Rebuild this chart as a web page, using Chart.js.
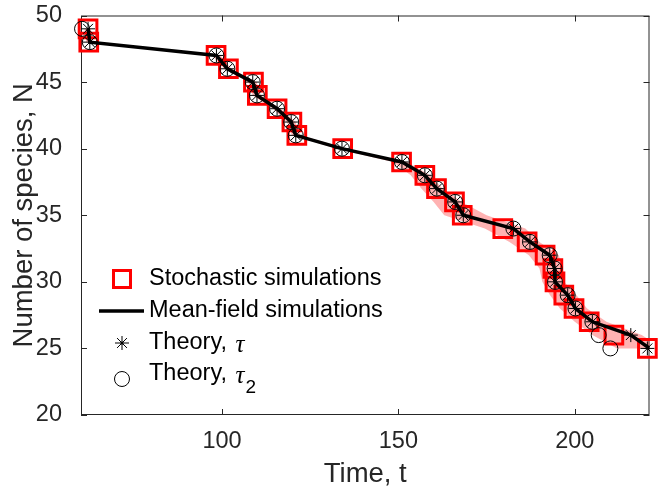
<!DOCTYPE html>
<html>
<head>
<meta charset="utf-8">
<script src="https://cdn.jsdelivr.net/npm/chart.js@4.4.1/dist/chart.umd.min.js"></script>
<style>
  html, body { margin: 0; padding: 0; background: #fff; }
  #wrap { width: 665px; height: 487px; }
</style>
</head>
<body>
<div id="wrap"><canvas id="chart" width="665" height="487"></canvas></div>
<script>
// number of species left after each extinction
const speciesN = [49, 48, 47, 46, 45, 44, 43, 42, 41, 40, 39, 38, 37, 36, 35, 34, 33, 32, 31, 30, 29, 28, 27, 26, 25];
// extinction times
const tStochastic = [62.0, 62.2, 98.3, 101.8, 108.9, 110.0, 115.6, 119.8, 121.2, 134.2, 150.9, 157.5, 160.8, 165.9, 168.1, 179.6, 186.5, 191.6, 193.8, 194.4, 196.9, 199.8, 204.1, 211.1, 220.6];
const tMeanField  = [62.0, 62.5, 98.4, 101.5, 108.7, 109.9, 115.6, 119.6, 120.9, 134.0, 151.0, 157.5, 160.9, 166.1, 168.4, 182.6, 187.3, 192.9, 194.3, 194.4, 198.0, 200.2, 205.0, 215.9, 221.2];
const tTheory     = [62.0, 62.5, 98.4, 101.5, 108.7, 109.9, 115.6, 119.6, 120.9, 134.0, 151.0, 157.5, 160.9, 166.1, 168.4, 182.6, 187.3, 192.9, 194.3, 194.4, 198.0, 200.2, 205.0, 215.9, 220.6];
const tTheory2    = [60.3, 62.5, 98.4, 101.5, 108.7, 109.9, 115.6, 119.6, 120.9, 134.0, 151.0, 157.5, 160.9, 166.1, 168.4, 182.6, 187.3, 192.9, 194.3, 194.4, 198.0, 200.2, 205.0, 206.8, 210.1];
// spread of the stochastic runs (shaded band)
const tBandLow  = [61.0, 61.5, 97.2, 100.6, 107.5, 108.7, 114.5, 118.4, 119.8, 132.5, 148.5, 153.5, 156.5, 160.0, 163.0, 174.5, 181.5, 187.0, 190.0, 190.8, 193.0, 195.8, 200.0, 205.0, 212.0];
const tBandHigh = [62.8, 63.2, 99.6, 102.6, 109.8, 111.0, 116.6, 120.8, 122.2, 135.5, 152.5, 159.0, 162.5, 168.0, 175.0, 186.0, 190.0, 195.5, 196.5, 197.0, 200.5, 203.5, 209.0, 219.0, 225.0];
const xTicks = [100, 150, 200];
const yTicks = [20, 25, 30, 35, 40, 45, 50];

const FONT = "'Liberation Sans', Arial, Helvetica, sans-serif";
const TXT = '#262626';

const pts = ts => ts.map((t, i) => ({x: t, y: speciesN[i]}));
const bandPts = pts(tBandLow).concat(pts(tBandHigh).reverse());

// box round the axes with inward ticks, matlab style
const axesBox = {
  id: 'axesBox',
  beforeDatasetsDraw(chart) {
    const {ctx, chartArea: a, scales} = chart;
    ctx.save();
    ctx.strokeStyle = '#262626';
    ctx.lineWidth = 1;
    ctx.strokeRect(a.left + 0.5, a.top + 0.5, a.right - a.left - 1, a.bottom - a.top - 1);
    ctx.beginPath();
    xTicks.forEach(v => {
      const px = Math.round(scales.x.getPixelForValue(v)) + 0.5;
      ctx.moveTo(px, a.bottom); ctx.lineTo(px, a.bottom - 6);
      ctx.moveTo(px, a.top); ctx.lineTo(px, a.top + 6);
    });
    yTicks.forEach(v => {
      const py = Math.round(scales.y.getPixelForValue(v)) + 0.5;
      ctx.moveTo(a.left, py); ctx.lineTo(a.left + 6, py);
      ctx.moveTo(a.right, py); ctx.lineTo(a.right - 6, py);
    });
    ctx.stroke();
    ctx.restore();
  }
};

// legend drawn by hand (needs italic tau and a subscript)
const boxLegend = {
  id: 'boxLegend',
  afterDraw(chart) {
    const ctx = chart.ctx;
    const sx = 122, tx = 149;
    const rows = [279, 311, 343, 374];
    ctx.save();
    // square
    ctx.strokeStyle = '#ff0000';
    ctx.lineWidth = 3;
    ctx.strokeRect(sx - 8.5, rows[0] - 8.5, 17, 17);
    // line
    ctx.strokeStyle = '#000';
    ctx.lineWidth = 3.5;
    ctx.beginPath(); ctx.moveTo(99, rows[1]); ctx.lineTo(144, rows[1]); ctx.stroke();
    // asterisk
    ctx.lineWidth = 1;
    ctx.beginPath();
    for (let k = 0; k < 4; k++) {
      const ang = k * Math.PI / 4;
      ctx.moveTo(sx - 7 * Math.cos(ang), rows[2] - 7 * Math.sin(ang));
      ctx.lineTo(sx + 7 * Math.cos(ang), rows[2] + 7 * Math.sin(ang));
    }
    ctx.stroke();
    ctx.beginPath(); ctx.arc(sx, rows[2], 1.5, 0, Math.PI * 2); ctx.fillStyle = '#000'; ctx.fill();
    // circle
    ctx.beginPath(); ctx.arc(sx, rows[3] + 5, 7.5, 0, Math.PI * 2); ctx.stroke();

    ctx.fillStyle = '#000';
    ctx.textBaseline = 'middle';
    ctx.font = '23.5px ' + FONT;
    const ds = chart.data.datasets;
    ctx.fillText(ds[1].label, tx, rows[0]);
    ctx.fillText(ds[2].label, tx, rows[1]);
    [3, 4].forEach((d, j) => {
      const y = rows[2 + j];
      ctx.font = '23.5px ' + FONT;
      ctx.fillText(ds[d].label, tx, y);
      let x = tx + ctx.measureText(ds[d].label).width + 2;
      ctx.font = 'italic 25px "Liberation Serif", serif';
      ctx.fillText('\u03c4', x, y + 2);
      if (d === 4) {
        x += ctx.measureText('\u03c4').width + 1;
        ctx.font = '19px ' + FONT;
        ctx.fillText('2', x, y + 14);
      }
    });
    ctx.restore();
  }
};

new Chart(document.getElementById('chart'), {
  type: 'scatter',
  data: {
    datasets: [
      {
        label: 'band',
        data: bandPts,
        showLine: true,
        fill: 'shape',
        backgroundColor: 'rgba(255, 0, 0, 0.3)',
        borderWidth: 0,
        borderColor: 'rgba(0,0,0,0)',
        pointRadius: 0,
        tension: 0,
        order: 5
      },
      {
        label: 'Stochastic simulations',
        data: pts(tStochastic),
        pointStyle: 'rect',
        pointRadius: 12.5,
        borderColor: '#ff0000',
        backgroundColor: 'rgba(0,0,0,0)',
        borderWidth: 3,
        clip: false,
        order: 4
      },
      {
        label: 'Mean-field simulations',
        data: pts(tMeanField),
        showLine: true,
        borderColor: '#000',
        borderWidth: 3.5,
        pointRadius: 0,
        tension: 0,
        order: 3
      },
      {
        label: 'Theory, ',
        data: pts(tTheory),
        pointStyle: 'star',
        pointRadius: 7,
        borderColor: '#000',
        borderWidth: 1,
        clip: false,
        order: 2
      },
      {
        label: 'Theory, ',
        data: pts(tTheory2),
        pointStyle: 'circle',
        pointRadius: 7.5,
        borderColor: '#000',
        backgroundColor: 'rgba(0,0,0,0)',
        borderWidth: 1,
        clip: false,
        order: 1
      }
    ]
  },
  options: {
    responsive: false,
    animation: false,
    devicePixelRatio: 1,
    layout: { padding: { top: 15, right: 7, left: 0, bottom: 0 } },
    plugins: { legend: { display: false }, tooltip: { enabled: false } },
    scales: {
      x: {
        type: 'linear',
        min: 60,
        max: 221.2,
        grid: { display: false, drawTicks: false },
        border: { display: false },
        afterBuildTicks: s => { s.ticks = xTicks.map(v => ({value: v})); },
        afterFit: s => { s.height = 72; s.paddingLeft = 0; s.paddingRight = 0; },
        ticks: { color: TXT, padding: 12.4, maxRotation: 0, font: { family: FONT, size: 23.5 } },
        title: { display: true, text: 'Time, t', color: TXT, padding: { top: 0, bottom: -1 }, font: { family: FONT, size: 27.5, lineHeight: 1 } }
      },
      y: {
        min: 20,
        max: 50,
        grid: { display: false, drawTicks: false },
        border: { display: false },
        afterBuildTicks: s => { s.ticks = yTicks.map(v => ({value: v})); },
        afterFit: s => { s.width = 81; s.paddingTop = 0; s.paddingBottom = 0; },
        ticks: { color: TXT, padding: 19, font: { family: FONT, size: 23.5 } },
        title: { display: true, text: 'Number of species, N', color: TXT, padding: { top: 11, bottom: 0 }, font: { family: FONT, size: 27.5, lineHeight: 1 } }
      }
    }
  },
  plugins: [axesBox, boxLegend]
});
</script>
</body>
</html>
